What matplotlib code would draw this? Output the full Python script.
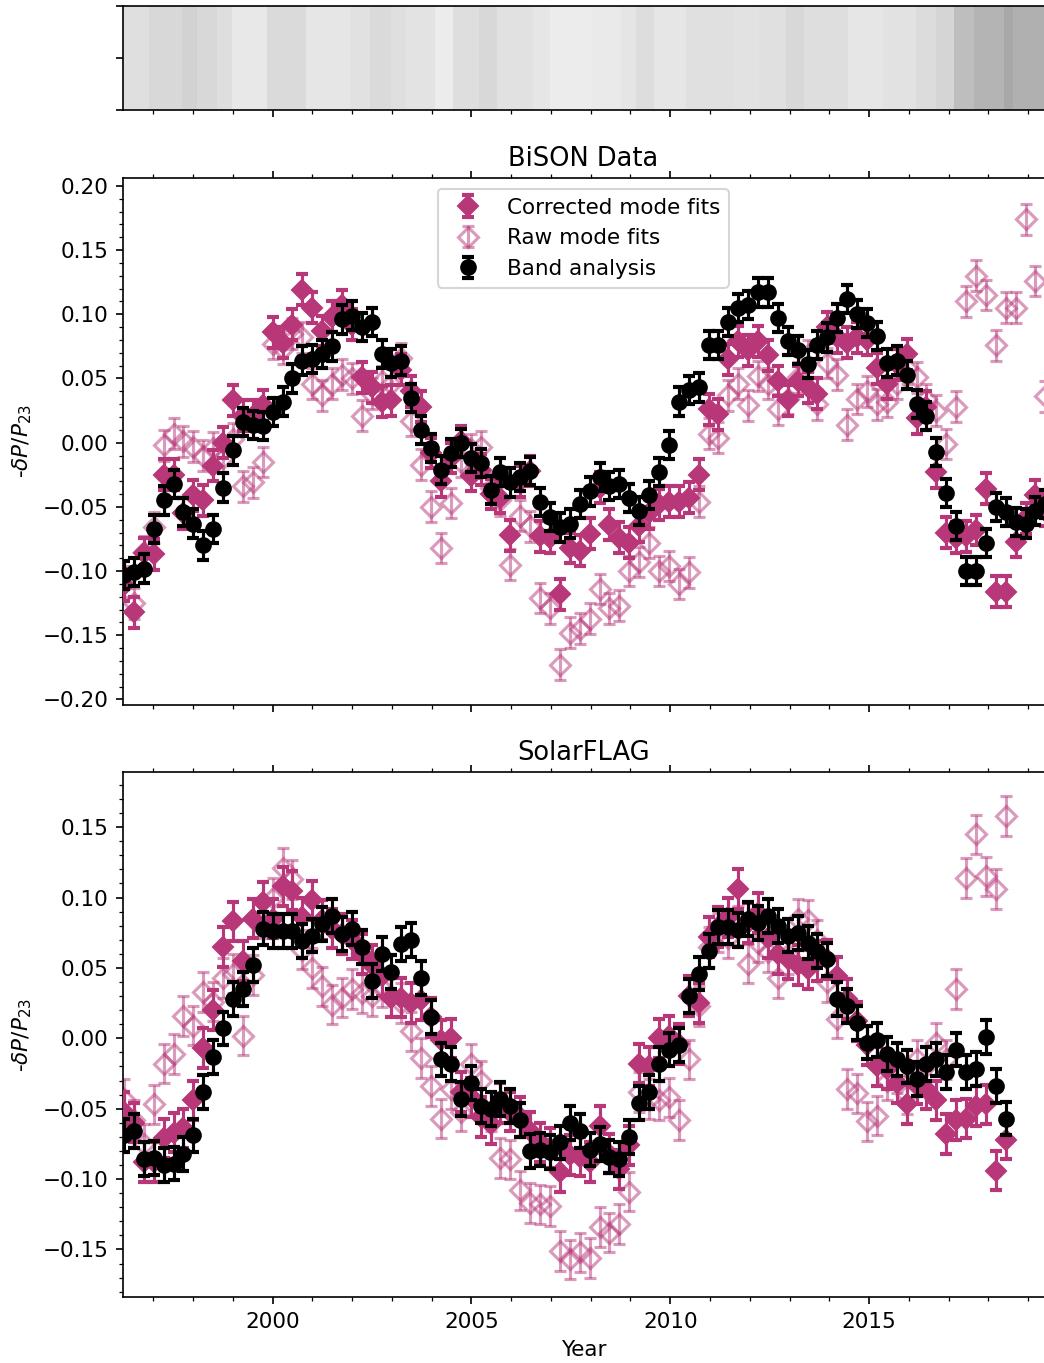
import numpy as np
import matplotlib
matplotlib.use("Agg")
import matplotlib.pyplot as plt
from matplotlib.ticker import MultipleLocator, NullFormatter

# ---------------- data ----------------
# 91-day cadence starting 1996.263
T0 = 1996.263
STEP = 91.0 / 365.25

bison_band = [
    -0.103, -0.101, -0.098,
    -0.067, -0.045, -0.032, -0.054,
    -0.063, -0.080, -0.067, -0.035,
    -0.006, 0.016, 0.014, 0.013,
    0.024, 0.032, 0.050, 0.064,
    0.065, 0.069, 0.075, 0.096,
    0.099, 0.090, 0.094, 0.069,
    0.062, 0.064, 0.035, 0.010,
    -0.004, -0.021, -0.008, 0.000,
    -0.012, -0.016, -0.037, -0.023,
    -0.031, -0.027, -0.022, -0.046,
    -0.058, -0.066, -0.063, -0.048,
    -0.038, -0.027, -0.034, -0.032,
    -0.043, -0.053, -0.041, -0.023,
    -0.002, 0.032, 0.041, 0.043,
    0.076, 0.076, 0.094, 0.105,
    0.107, 0.117, 0.117, 0.097,
    0.079, 0.072, 0.061, 0.076,
    0.082, 0.097, 0.112, 0.100,
    0.093, 0.083, 0.062, 0.064,
    0.053, 0.030, 0.021, -0.007,
    -0.039, -0.065, -0.100, -0.100,
    -0.078, -0.050, -0.054, -0.062,
    -0.063, -0.053, -0.048,
]
bison_corr = [
    -0.111, -0.132, -0.086,
    -0.087, -0.025, -0.025, -0.055,
    -0.041, -0.045, -0.018, 0.000,
    0.033, 0.021, 0.021, 0.029,
    0.086, 0.078, 0.092, 0.119,
    0.105, 0.087, 0.098, 0.107,
    0.092, 0.051, 0.043, 0.032,
    0.033, 0.057, 0.040, 0.028,
    -0.008, -0.030, -0.012, 0.001,
    -0.026, -0.021, -0.040, -0.043,
    -0.072, -0.030, -0.022, -0.073,
    -0.074, -0.118, -0.082, -0.084,
    -0.071, -0.035, -0.064, -0.074,
    -0.078, -0.065, -0.055, -0.048,
    -0.046, -0.046, -0.043, -0.025,
    0.026, 0.022, 0.065, 0.079,
    0.072, 0.079, 0.068, 0.048,
    0.033, 0.048, 0.043, 0.038,
    0.090, 0.082, 0.078, 0.082,
    0.080, 0.058, 0.046, 0.061,
    0.069, 0.019, 0.028, -0.023,
    -0.070, -0.074, -0.073, -0.068,
    -0.036, -0.116, -0.116, -0.077,
    -0.059, -0.041, -0.053,
]
bison_raw = [
    -0.108, -0.125, -0.085,
    -0.066, -0.002, 0.007, 0.001,
    -0.003, -0.010, -0.004, -0.012,
    0.003, -0.034, -0.031, -0.015,
    0.077, 0.073, 0.085, 0.082,
    0.046, 0.037, 0.046, 0.053,
    0.050, 0.021, 0.038, 0.048,
    0.046, 0.066, 0.017, -0.017,
    -0.050, -0.082, -0.047, -0.015,
    -0.005, -0.003, -0.035, -0.045,
    -0.095, -0.057, -0.065, -0.121,
    -0.129, -0.173, -0.148, -0.145,
    -0.137, -0.114, -0.129, -0.127,
    -0.100, -0.093, -0.078, -0.100,
    -0.096, -0.110, -0.101, -0.046,
    0.007, 0.004, 0.037, 0.046,
    0.029, 0.052, 0.046, 0.026,
    0.034, 0.051, 0.068, 0.030,
    0.062, 0.053, 0.014, 0.034,
    0.040, 0.030, 0.032, 0.046,
    0.058, 0.051, 0.034, 0.025,
    -0.001, 0.028, 0.110, 0.130,
    0.115, 0.076, 0.105, 0.105,
    0.174, 0.126, 0.036,
]

flag_band = [
    -0.069, -0.066, -0.086,
    -0.085, -0.090, -0.089, -0.082,
    -0.069, -0.038, -0.013, 0.007,
    0.028, 0.035, 0.052, 0.078,
    0.076, 0.076, 0.076, 0.069,
    0.073, 0.081, 0.087, 0.074,
    0.078, 0.065, 0.041, 0.060,
    0.047, 0.067, 0.070, 0.043,
    0.015, -0.015, -0.018, -0.043,
    -0.032, -0.048, -0.050, -0.043,
    -0.048, -0.058, -0.080, -0.079,
    -0.081, -0.074, -0.060, -0.066,
    -0.079, -0.075, -0.084, -0.086,
    -0.070, -0.046, -0.038, -0.018,
    -0.008, -0.005, 0.030, 0.046,
    0.062, 0.079, 0.079, 0.077,
    0.085, 0.082, 0.087, 0.080,
    0.073, 0.075, 0.068, 0.062,
    0.056, 0.028, 0.023, 0.011,
    -0.003, -0.001, -0.011, -0.015,
    -0.020, -0.029, -0.018, -0.015,
    -0.024, -0.008, -0.024, -0.022,
    0.001, -0.034, -0.057,
]
flag_corr = [
    -0.052, -0.060, -0.088,
    -0.088, -0.071, -0.067, -0.064,
    -0.044, -0.007, 0.020, 0.065,
    0.083, 0.055, 0.085, 0.097,
    0.085, 0.108, 0.105, 0.086,
    0.098, 0.084, 0.078, 0.074,
    0.070, 0.060, 0.052, 0.044,
    0.029, 0.029, 0.025, 0.027,
    0.015, -0.001, 0.000, -0.038,
    -0.042, -0.056, -0.061, -0.046,
    -0.052, -0.056, -0.066, -0.074,
    -0.078, -0.095, -0.083, -0.084,
    -0.088, -0.062, -0.082, -0.093,
    -0.076, -0.018, -0.020, 0.000,
    0.002, -0.004, 0.030, 0.025,
    0.072, 0.079, 0.086, 0.106,
    0.082, 0.089, 0.071, 0.060,
    0.056, 0.052, 0.049, 0.055,
    0.056, 0.044, 0.028, 0.012,
    -0.005, -0.020, -0.022, -0.032,
    -0.047, -0.033, -0.036, -0.044,
    -0.068, -0.058, -0.057, -0.048,
    -0.047, -0.094, -0.072,
]
flag_raw = [
    -0.043, -0.058, -0.075,
    -0.047, -0.018, -0.011, 0.016,
    0.009, 0.033, 0.026, 0.043,
    0.046, 0.002, 0.045, 0.085,
    0.100, 0.121, 0.113, 0.063,
    0.050, 0.037, 0.024, 0.029,
    0.035, 0.032, 0.030, 0.036,
    0.030, 0.025, 0.005, -0.014,
    -0.034, -0.057, -0.036, -0.052,
    -0.018, -0.030, -0.052, -0.085,
    -0.086, -0.108, -0.117, -0.118,
    -0.119, -0.151, -0.157, -0.152,
    -0.156, -0.134, -0.138, -0.132,
    -0.109, -0.038, -0.043, -0.044,
    -0.042, -0.058, -0.015, 0.023,
    0.065, 0.075, 0.071, 0.080,
    0.053, 0.068, 0.061, 0.043,
    0.060, 0.085, 0.084, 0.070,
    0.040, 0.014, -0.036, -0.039,
    -0.059, -0.055, -0.030, -0.025,
    -0.040, -0.015, -0.020, -0.003,
    -0.015, 0.035, 0.114, 0.145,
    0.115, 0.106, 0.158,
]

# error bar half-widths
bison_err = {"band": 0.011, "corr": 0.012, "raw": 0.012}
flag_err = {"band": 0.012, "corr": 0.014, "raw": 0.014}

# activity strip (grey level 0-255 per time segment)
strip_edges = [1996.16, 1996.90, 1997.72, 1998.09, 1998.61, 1998.98, 1999.87,
               2000.83, 2001.94, 2002.46, 2002.98, 2003.35, 2004.09, 2004.53,
               2005.20, 2005.65, 2006.54, 2006.98, 2008.02, 2008.76, 2009.13,
               2009.58, 2010.39, 2011.57, 2012.24, 2012.91, 2013.36, 2014.47,
               2015.36, 2016.17, 2016.69, 2017.13, 2017.65, 2018.39, 2018.62,
               2019.50]
strip_grey = [223, 216, 210, 216, 222, 232, 218, 230, 225, 218, 223, 227, 236,
              222, 216, 225, 230, 236, 234, 229, 221, 230, 224, 226, 224, 216,
              222, 230, 226, 220, 213, 190, 180, 168, 176]

labels = ["Corrected mode fits", "Raw mode fits", "Band analysis"]
CORR = "#b73779"

# ---------------- figure ----------------
FS = 10.3
plt.rcParams["font.family"] = ["DejaVu Sans"]
plt.rcParams["font.size"] = FS
fig = plt.figure(figsize=(1044 / 150, 1363 / 150), dpi=150)

L, R = 122.7 / 1044, 1.0
H = 1363.0


def box(top_px, bot_px):
    return [L, 1 - bot_px / H, R - L, (bot_px - top_px) / H]


ax0 = fig.add_axes(box(5.7, 110.0))
ax1 = fig.add_axes(box(178.2, 704.6))
ax2 = fig.add_axes(box(772.3, 1297.3))

XMIN, XMAX = 1996.23, 2019.40

# strip
ax0.pcolormesh(strip_edges, [0, 1], [strip_grey], cmap="gray", vmin=0, vmax=255,
               shading="flat")
ax0.set_ylim(0, 1)
ax0.set_yticks([0, 0.5, 1])
ax0.yaxis.set_major_formatter(NullFormatter())


def panel(ax, band, corr, raw, err, title):
    tb = T0 + STEP * np.arange(len(band))
    tc = T0 + STEP * np.arange(len(corr))
    tr = T0 + STEP * np.arange(len(raw))
    ekw = dict(capsize=3, elinewidth=1.5, capthick=2, ms=7)
    ax.errorbar(tc, corr, yerr=err["corr"], fmt="D", color=CORR, label=labels[0],
                zorder=3, **ekw)
    ax.errorbar(tr, raw, yerr=err["raw"], fmt="D", color=CORR, mfc="none",
                mew=1.5, alpha=0.5, label=labels[1], zorder=2, **ekw)
    ax.errorbar(tb, band, yerr=err["band"], fmt="o", color="black",
                label=labels[2], zorder=4, **ekw)
    ax.set_title(title, fontsize=FS * 1.2)
    ax.set_ylabel(r"-$\delta P/P_{23}$")
    ax.yaxis.set_major_locator(MultipleLocator(0.05))
    ax.yaxis.set_minor_locator(MultipleLocator(0.01))
    ax.tick_params(axis="x", which="both", top=True)


panel(ax1, bison_band, bison_corr, bison_raw, bison_err, "BiSON Data")
panel(ax2, flag_band, flag_corr, flag_raw, flag_err, "SolarFLAG")
ax1.set_ylim(-0.204, 0.206)
ax2.set_ylim(-0.184, 0.189)
ax1.legend(loc="upper center", fontsize=FS)
ax2.set_xlabel("Year")

for ax in (ax0, ax1, ax2):
    ax.set_xlim(XMIN, XMAX)
    ax.xaxis.set_major_locator(MultipleLocator(5))
    ax.xaxis.set_minor_locator(MultipleLocator(1))
    ax.spines["right"].set_visible(False)
ax0.tick_params(axis="x", which="both", labelbottom=False)
ax1.tick_params(axis="x", which="both", labelbottom=False)

fig.savefig("out.png", dpi=150)
